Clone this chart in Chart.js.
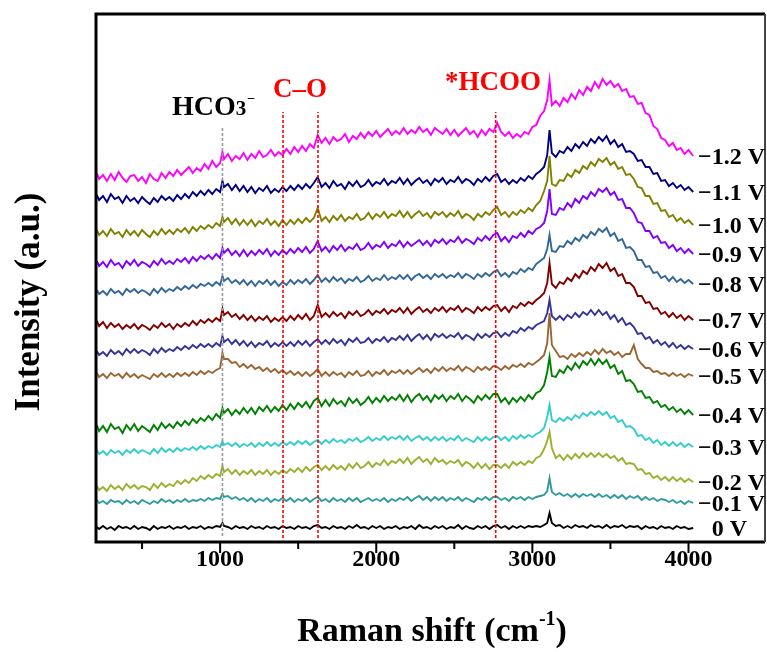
<!DOCTYPE html>
<html>
<head>
<meta charset="utf-8">
<script src="https://cdn.jsdelivr.net/npm/chart.js@4.4.0/dist/chart.umd.min.js"></script>
<style>
  html, body { margin: 0; padding: 0; background: #fff; }
  #wrap { width: 767px; height: 652px; }
</style>
</head>
<body>
<div id="wrap"><canvas id="ramanChart" width="767" height="652"></canvas></div>
<script>
// Raman shift (cm-1) sampling points
const shift = [
    210, 225, 250, 275, 300, 325, 350, 375, 400, 425,
    450, 475, 500, 525, 550, 575, 600, 625, 650, 675,
    700, 725, 750, 775, 800, 825, 850, 875, 900, 925,
    950, 975, 1000, 1015, 1025, 1050, 1075, 1100, 1125, 1150,
    1175, 1200, 1225, 1250, 1275, 1300, 1325, 1350, 1375, 1400,
    1425, 1450, 1475, 1500, 1525, 1550, 1575, 1600, 1625, 1650,
    1675, 1700, 1725, 1750, 1775, 1800, 1825, 1850, 1875, 1900,
    1925, 1950, 1975, 2000, 2025, 2050, 2075, 2100, 2125, 2150,
    2175, 2200, 2225, 2250, 2275, 2300, 2325, 2350, 2375, 2400,
    2425, 2450, 2475, 2500, 2525, 2550, 2575, 2600, 2625, 2650,
    2675, 2700, 2725, 2750, 2775, 2800, 2825, 2850, 2875, 2900,
    2925, 2950, 2975, 3000, 3025, 3050, 3075, 3095, 3110, 3125,
    3150, 3175, 3200, 3225, 3250, 3275, 3300, 3325, 3350, 3375,
    3400, 3425, 3450, 3475, 3500, 3525, 3550, 3575, 3600, 3625,
    3650, 3675, 3700, 3725, 3750, 3775, 3800, 3825, 3850, 3875,
    3900, 3925, 3950, 3975, 4000, 4030
];
const xTicks = [500, 1000, 1500, 2000, 2500, 3000, 3500, 4000];

// stacked intensities (a.u.), one array per potential
const neg12 = [
    369, 363, 367, 361, 368, 362, 370, 364, 360, 366,
    367, 361, 365, 359, 368, 363, 361, 369, 364, 370,
    366, 372, 367, 371, 375, 369, 374, 371, 378, 373,
    381, 375, 379, 390, 383, 388, 381, 386, 383, 389,
    382, 388, 384, 391, 385, 387, 392, 386, 390, 387,
    393, 388, 395, 390, 396, 391, 398, 394, 407, 399,
    404, 398, 405, 401, 403, 408, 400, 406, 403, 409,
    404, 410, 406, 411, 405, 409, 413, 407, 411, 408,
    414, 408, 412, 409, 415, 410, 413, 407, 414, 411,
    408, 413, 407, 412, 406, 410, 414, 408, 411, 405,
    412, 407, 413, 410, 419, 410, 406, 410, 404, 408,
    405, 410, 408, 415, 417, 426, 431, 442, 462, 437,
    441, 436, 444, 440, 448, 443, 452, 447, 455, 451,
    460, 454, 463, 457, 461, 455, 458, 451, 453, 445,
    446, 438, 439, 429, 427, 416, 413, 404, 402, 396,
    399, 392, 394, 388, 392, 386
];
const neg11 = [
    347, 342, 346, 340, 348, 343, 345, 339, 346, 341,
    344, 339, 345, 341, 338, 344, 340, 346, 342, 345,
    341, 347, 343, 348, 344, 350, 346, 351, 347, 352,
    348, 353, 350, 361, 355, 358, 352, 357, 351, 356,
    350, 355, 349, 354, 351, 356, 349, 353, 350, 355,
    351, 356, 352, 357, 353, 358, 354, 359, 365, 355,
    359, 354, 361, 356, 358, 353, 360, 356, 361, 355,
    357, 362, 356, 360, 358, 363, 357, 361, 359, 364,
    358, 363, 357, 361, 364, 359, 362, 357, 363, 360,
    364, 358, 362, 360, 365, 359, 363, 361, 357, 363,
    360, 365, 361, 366, 368, 360, 363, 358, 362, 359,
    364, 361, 366, 363, 368, 371, 375, 387, 412, 389,
    385, 391, 389, 395, 391, 398, 394, 400, 396, 403,
    399, 405, 401, 406, 398, 402, 395, 398, 390, 391,
    388, 381, 382, 375, 375, 368, 369, 361, 362, 356,
    359, 354, 357, 352, 355, 350
];
const neg10 = [
    312, 307, 311, 306, 313, 308, 310, 305, 312, 307,
    311, 306, 312, 308, 305, 311, 307, 313, 308, 312,
    308, 313, 310, 314, 309, 315, 311, 316, 313, 317,
    314, 319, 316, 325, 320, 324, 318, 323, 317, 322,
    317, 322, 316, 321, 318, 323, 317, 321, 316, 322,
    317, 322, 318, 323, 319, 324, 320, 324, 334, 321,
    325, 320, 326, 322, 327, 321, 325, 323, 328, 322,
    324, 329, 323, 328, 325, 330, 324, 328, 326, 331,
    325, 330, 324, 328, 331, 326, 329, 324, 330, 327,
    330, 325, 329, 326, 331, 324, 328, 326, 322, 328,
    325, 330, 327, 332, 335, 327, 330, 325, 330, 327,
    332, 329, 334, 331, 337, 341, 351, 361, 386, 358,
    356, 362, 361, 368, 365, 372, 369, 376, 373, 380,
    376, 383, 380, 384, 377, 380, 373, 375, 367, 368,
    363, 355, 354, 346, 346, 338, 339, 331, 332, 325,
    327, 321, 324, 319, 322, 317
];
const neg09 = [
    281, 276, 280, 275, 282, 277, 279, 274, 281, 277,
    282, 276, 280, 278, 275, 281, 277, 283, 278, 281,
    278, 283, 280, 284, 279, 285, 281, 286, 283, 287,
    283, 288, 284, 294, 289, 293, 287, 291, 286, 292,
    286, 291, 287, 292, 288, 293, 286, 291, 287, 292,
    288, 293, 289, 294, 290, 295, 289, 293, 301, 291,
    295, 290, 296, 292, 297, 291, 295, 293, 298, 292,
    294, 299, 293, 297, 295, 300, 294, 298, 296, 301,
    295, 300, 296, 299, 302, 297, 301, 296, 302, 299,
    303, 298, 302, 300, 305, 299, 303, 301, 298, 304,
    301, 306, 302, 307, 309, 301, 305, 300, 306, 304,
    309, 305, 311, 308, 313, 315, 319, 331, 353, 328,
    327, 334, 332, 339, 335, 343, 339, 346, 343, 350,
    346, 353, 350, 354, 347, 350, 342, 343, 334, 334,
    329, 320, 319, 311, 311, 304, 306, 299, 300, 294,
    297, 291, 294, 289, 293, 288
];
const neg08 = [
    252, 248, 251, 247, 253, 249, 251, 247, 253, 250,
    253, 249, 252, 250, 247, 253, 249, 254, 250, 253,
    251, 255, 252, 256, 253, 257, 254, 258, 256, 259,
    256, 260, 257, 266, 261, 264, 259, 262, 258, 262,
    257, 261, 256, 261, 258, 262, 257, 261, 256, 260,
    257, 262, 258, 262, 259, 263, 258, 262, 267, 260,
    264, 260, 265, 261, 264, 259, 263, 261, 265, 260,
    262, 266, 261, 264, 262, 267, 262, 265, 263, 267,
    263, 267, 262, 266, 268, 264, 267, 263, 268, 265,
    268, 264, 267, 265, 269, 264, 268, 266, 263, 268,
    265, 269, 266, 270, 272, 266, 269, 265, 270, 268,
    273, 270, 274, 272, 278, 281, 284, 293, 307, 291,
    290, 296, 295, 301, 298, 304, 301, 307, 304, 310,
    307, 313, 310, 314, 306, 309, 301, 303, 294, 295,
    291, 282, 282, 275, 276, 269, 270, 264, 266, 261,
    265, 260, 263, 259, 262, 258
];
const neg07 = [
    221, 216, 220, 214, 219, 215, 218, 213, 217, 214,
    218, 213, 217, 215, 212, 217, 214, 219, 215, 218,
    213, 218, 215, 219, 216, 221, 217, 222, 219, 223,
    220, 224, 221, 233, 227, 230, 225, 228, 223, 227,
    222, 226, 221, 225, 222, 226, 220, 224, 221, 225,
    221, 226, 222, 227, 223, 228, 222, 226, 237, 225,
    229, 225, 230, 226, 229, 224, 230, 227, 231, 226,
    228, 232, 227, 231, 229, 233, 228, 232, 230, 234,
    229, 234, 228, 232, 235, 230, 233, 229, 234, 231,
    235, 230, 234, 232, 236, 230, 234, 232, 229, 235,
    231, 235, 232, 236, 237, 231, 235, 230, 236, 234,
    239, 236, 240, 238, 242, 245, 249, 259, 279, 258,
    254, 260, 258, 264, 261, 268, 264, 271, 268, 275,
    271, 278, 274, 279, 271, 274, 266, 268, 259, 259,
    255, 246, 246, 239, 240, 233, 234, 228, 230, 225,
    229, 224, 227, 222, 226, 222
];
const neg06 = [
    191, 187, 190, 186, 192, 188, 191, 187, 193, 189,
    193, 189, 192, 190, 187, 193, 189, 194, 190, 193,
    191, 195, 192, 196, 193, 197, 194, 198, 195, 198,
    195, 199, 196, 206, 200, 203, 198, 202, 197, 201,
    196, 200, 195, 199, 197, 201, 195, 199, 196, 200,
    196, 200, 196, 201, 197, 201, 196, 200, 203, 198,
    202, 198, 203, 199, 202, 197, 203, 200, 204, 199,
    200, 204, 199, 203, 201, 205, 200, 204, 202, 206,
    202, 207, 201, 205, 208, 203, 207, 202, 208, 205,
    208, 204, 207, 205, 209, 203, 207, 205, 202, 208,
    204, 208, 205, 209, 210, 205, 209, 206, 211, 209,
    214, 211, 215, 213, 217, 219, 221, 229, 242, 226,
    222, 226, 222, 227, 224, 229, 225, 230, 227, 232,
    227, 232, 227, 230, 223, 227, 220, 224, 217, 219,
    215, 208, 209, 203, 205, 199, 202, 197, 200, 195,
    199, 194, 197, 193, 196, 193
];
const neg05 = [
    169, 165, 168, 164, 169, 166, 168, 164, 169, 165,
    168, 164, 167, 165, 163, 168, 165, 169, 165, 168,
    165, 169, 166, 169, 166, 170, 167, 171, 168, 171,
    169, 172, 174, 189, 183, 183, 179, 180, 175, 178,
    174, 177, 173, 175, 171, 174, 170, 173, 169, 172,
    168, 171, 167, 170, 166, 170, 166, 169, 173, 166,
    170, 166, 170, 167, 169, 165, 170, 167, 171, 166,
    167, 171, 166, 170, 168, 172, 167, 171, 169, 172,
    168, 172, 168, 171, 174, 170, 173, 169, 174, 171,
    175, 171, 174, 172, 176, 171, 175, 173, 170, 175,
    172, 175, 172, 176, 175, 172, 176, 173, 177, 175,
    178, 175, 179, 177, 180, 183, 187, 199, 229, 197,
    191, 185, 186, 183, 188, 185, 189, 186, 190, 187,
    192, 188, 193, 189, 191, 187, 190, 185, 188, 188,
    197, 183, 178, 174, 174, 170, 171, 168, 169, 166,
    169, 166, 168, 165, 168, 166
];
const neg04 = [
    117, 111, 116, 110, 118, 113, 115, 109, 117, 112,
    118, 111, 116, 113, 110, 117, 112, 119, 114, 118,
    114, 120, 116, 121, 117, 123, 119, 124, 121, 126,
    122, 128, 124, 134, 129, 133, 127, 132, 128, 134,
    129, 134, 128, 135, 131, 136, 130, 135, 131, 137,
    132, 138, 133, 139, 135, 140, 134, 141, 144, 136,
    142, 136, 143, 138, 141, 136, 144, 139, 143, 137,
    140, 145, 139, 144, 140, 146, 141, 145, 142, 147,
    141, 147, 140, 145, 148, 142, 146, 140, 147, 143,
    147, 141, 146, 143, 148, 141, 146, 143, 139, 146,
    142, 147, 143, 148, 148, 140, 144, 138, 144, 140,
    145, 141, 147, 143, 149, 151, 157, 170, 185, 166,
    165, 172, 169, 176, 172, 179, 174, 181, 177, 183,
    177, 183, 178, 182, 174, 177, 168, 171, 161, 162,
    158, 150, 151, 144, 145, 139, 141, 135, 137, 132,
    135, 130, 133, 128, 132, 127
];
const neg03 = [
    92, 88, 91, 87, 92, 89, 91, 87, 92, 89,
    93, 89, 92, 90, 88, 93, 89, 94, 90, 93,
    90, 94, 91, 94, 92, 95, 92, 96, 93, 96,
    94, 97, 95, 101, 97, 99, 96, 99, 95, 98,
    96, 99, 95, 99, 96, 100, 96, 99, 96, 100,
    97, 100, 97, 101, 98, 101, 97, 100, 102, 98,
    102, 99, 103, 100, 102, 99, 103, 101, 104, 100,
    102, 105, 101, 104, 102, 106, 102, 105, 103, 106,
    102, 106, 101, 104, 106, 102, 105, 101, 105, 102,
    105, 101, 104, 102, 106, 101, 104, 102, 100, 105,
    101, 105, 102, 105, 106, 102, 105, 101, 106, 103,
    107, 104, 107, 105, 108, 110, 114, 125, 137, 122,
    120, 124, 121, 125, 122, 127, 124, 129, 126, 130,
    127, 131, 127, 130, 124, 126, 120, 122, 115, 116,
    113, 106, 107, 102, 104, 99, 102, 97, 100, 96,
    100, 96, 99, 95, 98, 95
];
const neg02 = [
    56, 52, 55, 51, 57, 53, 56, 52, 58, 54,
    57, 53, 56, 55, 52, 58, 54, 59, 55, 58,
    56, 61, 58, 62, 59, 64, 61, 66, 63, 67,
    64, 68, 66, 76, 70, 73, 68, 72, 67, 71,
    68, 72, 67, 71, 68, 72, 67, 71, 68, 72,
    69, 73, 70, 74, 70, 75, 71, 75, 77, 72,
    76, 72, 77, 73, 76, 72, 78, 74, 79, 74,
    76, 80, 75, 79, 77, 82, 77, 81, 79, 83,
    79, 84, 78, 82, 85, 80, 83, 78, 84, 80,
    82, 78, 81, 79, 82, 76, 80, 78, 74, 79,
    74, 78, 73, 77, 77, 74, 78, 74, 80, 77,
    80, 77, 81, 79, 84, 86, 93, 101, 110, 94,
    84, 87, 82, 87, 83, 88, 84, 89, 85, 89,
    85, 89, 85, 88, 84, 86, 81, 84, 78, 79,
    78, 72, 73, 68, 69, 64, 66, 62, 65, 61,
    65, 61, 64, 60, 63, 60
];
const neg01 = [
    42, 39, 41, 38, 42, 40, 41, 38, 42, 39,
    41, 38, 42, 40, 38, 41, 39, 43, 40, 42,
    39, 42, 40, 43, 40, 42, 41, 43, 41, 44,
    42, 44, 43, 48, 45, 46, 43, 45, 42, 44,
    41, 44, 40, 43, 41, 44, 40, 43, 41, 44,
    41, 44, 40, 43, 41, 44, 40, 43, 45, 41,
    43, 40, 44, 41, 43, 40, 44, 41, 44, 40,
    42, 44, 41, 43, 41, 44, 40, 43, 41, 44,
    42, 45, 41, 44, 46, 42, 45, 41, 45, 42,
    45, 41, 44, 42, 45, 41, 44, 42, 40, 44,
    42, 45, 42, 45, 45, 42, 44, 41, 45, 43,
    45, 42, 45, 43, 45, 46, 47, 51, 64, 50,
    47, 49, 46, 48, 45, 48, 45, 48, 46, 48,
    45, 48, 45, 47, 44, 47, 44, 47, 43, 46,
    44, 46, 42, 45, 42, 44, 41, 43, 42, 40,
    42, 39, 41, 38, 41, 39
];
const zero = [
    15, 13, 16, 13, 15, 12, 16, 14, 15, 13,
    16, 13, 15, 14, 12, 16, 13, 15, 14, 16,
    13, 15, 14, 16, 13, 15, 14, 16, 13, 15,
    14, 16, 15, 19, 16, 15, 13, 16, 14, 15,
    13, 16, 14, 15, 13, 16, 14, 15, 13, 16,
    14, 15, 13, 16, 14, 15, 13, 16, 17, 14,
    15, 13, 16, 14, 15, 13, 16, 14, 17, 14,
    15, 13, 16, 14, 16, 13, 15, 14, 16, 13,
    15, 14, 16, 13, 17, 14, 15, 13, 16, 14,
    16, 13, 15, 14, 17, 13, 16, 14, 13, 16,
    14, 16, 13, 16, 17, 14, 16, 13, 16, 14,
    16, 14, 16, 15, 16, 15, 17, 19, 29, 19,
    16, 17, 14, 16, 14, 17, 15, 16, 14, 17,
    15, 16, 14, 17, 14, 16, 15, 17, 14, 16,
    15, 16, 13, 16, 14, 15, 13, 16, 14, 15,
    13, 16, 14, 15, 13, 14
];

const potentials = ['\u22121.2 V', '\u22121.1 V', '\u22121.0 V', '\u22120.9 V', '\u22120.8 V', '\u22120.7 V',
    '\u22120.6 V', '\u22120.5 V', '\u22120.4 V', '\u22120.3 V', '\u22120.2 V', '\u22120.1 V', '0 V'];
const spectra = [neg12, neg11, neg10, neg09, neg08, neg07, neg06, neg05, neg04, neg03, neg02, neg01, zero];

// band markers (dashed guide lines)
const bandShift = [1015, 1403, 1627, 2765];
const bandTop = [414, 430, 430, 430];
const bandBottom = [6, 4, 4, 4];

const traceColors = ['#FF00FF', '#000080', '#808000', '#8000FF', '#336699', '#800000',
    '#333399', '#996633', '#008000', '#33CCCC', '#99B030', '#2E9B9B', '#000000'];
const bandColors = ['#999999', '#FF0000', '#FF0000', '#FF0000'];

const serif = "'Liberation Serif', 'Times New Roman', serif";

const datasets = [];
bandShift.forEach((s, i) => {
    datasets.push({
        data: [{ x: s, y: bandBottom[i] }, { x: s, y: bandTop[i] }],
        borderColor: bandColors[i],
        borderWidth: 1.6,
        borderDash: [3, 2],
        pointRadius: 0
    });
});
spectra.forEach((vals, i) => {
    datasets.push({
        label: potentials[i],
        data: shift.map((s, j) => ({ x: s, y: vals[j] })),
        borderColor: traceColors[i],
        borderWidth: 1.9,
        borderJoinStyle: 'miter',
        pointRadius: 0,
        tension: 0
    });
});

const decorations = {
    id: 'decorations',
    afterDraw(chart) {
        const { ctx, chartArea: a } = chart;
        const xs = chart.scales.x;
        const ys = chart.scales.y;
        ctx.save();

        // frame
        ctx.strokeStyle = '#000';
        ctx.lineWidth = 3;
        ctx.beginPath();
        ctx.moveTo(a.right, a.top);
        ctx.lineTo(a.left, a.top);
        ctx.lineTo(a.left, a.bottom);
        ctx.lineTo(a.right, a.bottom);
        ctx.stroke();
        ctx.strokeStyle = '#444';
        ctx.lineWidth = 2;
        ctx.beginPath();
        ctx.moveTo(a.right, a.top);
        ctx.lineTo(a.right, a.bottom);
        ctx.stroke();

        // tick marks
        ctx.strokeStyle = '#000';
        ctx.lineWidth = 2;
        xs.ticks.forEach(t => {
            const px = xs.getPixelForValue(t.value);
            const len = t.value % 1000 === 0 ? 11 : 7;
            ctx.beginPath();
            ctx.moveTo(px, a.bottom);
            ctx.lineTo(px, a.bottom + len);
            ctx.stroke();
        });

        // potential labels at the end of each trace
        ctx.fillStyle = '#000';
        ctx.font = 'bold 24px ' + serif;
        ctx.textBaseline = 'middle';
        ctx.textAlign = 'left';
        const minusW = ctx.measureText('\u2212').width;
        spectra.forEach((vals, i) => {
            const py = ys.getPixelForValue(vals[vals.length - 1]) + 2;
            const lab = potentials[i];
            const px = lab.startsWith('\u2212') ? 698 : 698 + minusW;
            ctx.fillText(lab, px, py);
        });

        // band annotations
        ctx.textBaseline = 'alphabetic';
        ctx.font = 'bold 28px ' + serif;
        ctx.fillStyle = '#000';
        ctx.fillText('HCO', 172, 115);
        const w = ctx.measureText('HCO').width;
        ctx.font = 'bold 21px ' + serif;
        ctx.fillText('3', 172 + w, 115);
        const w3 = ctx.measureText('3').width;
        ctx.font = 'bold 14px ' + serif;
        ctx.fillText('\u2212', 172 + w + w3 + 1, 103);

        ctx.fillStyle = '#FF0000';
        ctx.font = 'bold 27px ' + serif;
        ctx.fillText('C\u2013O', 273, 97);
        ctx.fillText('*HCOO', 445, 90);

        // axis titles
        ctx.fillStyle = '#000';
        const main = 'Raman shift (cm';
        ctx.font = 'bold 34px ' + serif;
        const mw = ctx.measureText(main).width;
        const cw = ctx.measureText(')').width;
        ctx.font = 'bold 20px ' + serif;
        const sw = ctx.measureText('-1').width;
        const sx = 432 - (mw + sw + cw) / 2;
        ctx.font = 'bold 34px ' + serif;
        ctx.fillText(main, sx, 641);
        ctx.fillText(')', sx + mw + sw, 641);
        ctx.font = 'bold 20px ' + serif;
        ctx.fillText('-1', sx + mw, 625);

        ctx.font = 'bold 35px ' + serif;
        ctx.translate(30, 302);
        ctx.rotate(-Math.PI / 2);
        ctx.textAlign = 'center';
        ctx.textBaseline = 'middle';
        ctx.fillText('Intensity (a.u.)', 0, 0);

        ctx.restore();
    }
};

new Chart(document.getElementById('ramanChart').getContext('2d'), {
    type: 'line',
    data: { datasets: datasets },
    options: {
        responsive: false,
        animation: false,
        events: [],
        layout: { padding: { top: 14, right: 2, left: 0, bottom: 0 } },
        plugins: {
            legend: { display: false },
            tooltip: { enabled: false }
        },
        scales: {
            x: {
                type: 'linear',
                min: 205,
                max: 4490,
                afterFit: s => { s.height = 110; },
                afterBuildTicks: s => { s.ticks = xTicks.map(v => ({ value: v })); },
                grid: { display: false, drawTicks: false },
                border: { display: false },
                ticks: {
                    autoSkip: false,
                    maxRotation: 0,
                    padding: 3,
                    color: '#000',
                    font: { family: serif, size: 24, weight: 'bold' },
                    callback: v => (v % 1000 === 0 ? String(v) : '')
                }
            },
            y: {
                type: 'linear',
                min: 0,
                max: 528,
                afterFit: s => { s.width = 96; },
                grid: { display: false, drawTicks: false },
                border: { display: false },
                ticks: { display: false }
            }
        }
    },
    plugins: [decorations]
});
</script>
</body>
</html>
